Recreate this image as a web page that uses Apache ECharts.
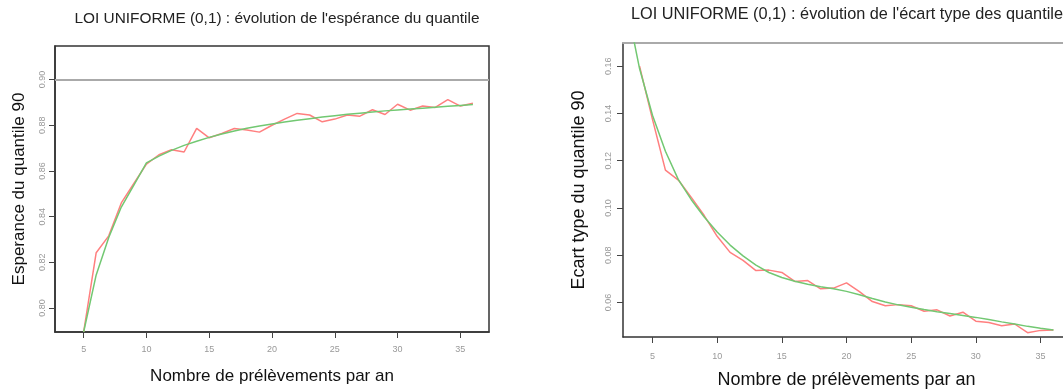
<!DOCTYPE html>
<html>
<head>
<meta charset="utf-8">
<script src="https://cdn.jsdelivr.net/npm/echarts@6/dist/echarts.min.js"></script>
<style>
html,body{margin:0;padding:0;background:#fff;}
#c{width:1063px;height:389px;}
</style>
</head>
<body>
<div id="c"></div>
<script>
// ---- Data ----
const titleLeft = "LOI UNIFORME (0,1) : évolution de l'espérance du quantile";
const titleRight = "LOI UNIFORME (0,1) : évolution de l'écart type des quantiles";
const xAxisName = "Nombre de prélèvements par an";
const yNameLeft = "Esperance du quantile 90";
const yNameRight = "Ecart type du quantile 90";

const xTicks = [5, 10, 15, 20, 25, 30, 35];
const yTicksLeft = [0.80, 0.82, 0.84, 0.86, 0.88, 0.90];
const yTicksRight = [0.06, 0.08, 0.10, 0.12, 0.14, 0.16];
const refLevel = 0.90;

const xMean = [5,6,7,8,9,10,11,12,13,14,15,16,17,18,19,20,21,22,23,24,25,26,27,28,29,30,31,32,33,34,35,36];
const meanObserved = [0.7895,0.8242,0.8316,0.8460,0.8545,0.8630,0.8671,0.8693,0.8683,0.8786,0.8745,0.8764,0.8786,0.8779,0.8770,0.8800,0.8827,0.8852,0.8845,0.8815,0.8827,0.8845,0.8840,0.8868,0.8847,0.8892,0.8866,0.8884,0.8878,0.8912,0.8884,0.8896];
const meanFitted = [0.7895,0.8145,0.8309,0.8442,0.8538,0.8635,0.8665,0.8690,0.8712,0.8730,0.8747,0.8762,0.8775,0.8787,0.8797,0.8806,0.8814,0.8822,0.8829,0.8836,0.8842,0.8848,0.8853,0.8858,0.8863,0.8867,0.8871,0.8875,0.8879,0.8883,0.8887,0.8891];

const xSdObserved = [4,5,6,7,8,9,10,11,12,13,14,15,16,17,18,19,20,21,22,23,24,25,26,27,28,29,30,31,32,33,34,35,36];
const sdObserved = [0.1600,0.1375,0.1160,0.1118,0.1045,0.0968,0.0880,0.0812,0.0778,0.0735,0.0737,0.0727,0.0689,0.0693,0.0658,0.0661,0.0683,0.0646,0.0604,0.0586,0.0591,0.0586,0.0563,0.0569,0.0543,0.0559,0.0521,0.0515,0.0502,0.0509,0.0472,0.0482,0.0484];
const xSdFitted = [3,4,5,6,7,8,9,10,11,12,13,14,15,16,17,18,19,20,21,22,23,24,25,26,27,28,29,30,31,32,33,34,35,36];
const sdFitted = [0.1860,0.1590,0.1392,0.1240,0.1120,0.1035,0.0962,0.0898,0.0843,0.0797,0.0758,0.0727,0.0706,0.0690,0.0677,0.0667,0.0658,0.0647,0.0633,0.0617,0.0602,0.0590,0.0580,0.0570,0.0561,0.0553,0.0545,0.0537,0.0528,0.0518,0.0509,0.0499,0.0491,0.0484];

// ---- Chart ----
const FONT = "'Liberation Sans', Arial, sans-serif";
const RED = '#ff7f7f';
const GREEN = '#72c872';
const pairs = (xs, ys) => xs.map((x, i) => [x, ys[i]]);

const chart = echarts.init(document.getElementById('c'), null, {renderer: 'canvas'});

function xAx(gridIndex, labelMargin, nameGap, nameSize) {
  return {
    type: 'value', gridIndex, min: 2.72, max: 37.28,
    splitLine: {show: false},
    axisLine: {show: true, onZero: false, lineStyle: {color: '#333', width: 1.5}},
    axisTick: {show: true, length: 6, customValues: xTicks, lineStyle: {color: '#444'}},
    axisLabel: {show: true, customValues: xTicks, margin: labelMargin, fontSize: 9, color: '#999', fontFamily: FONT},
    name: xAxisName, nameLocation: 'middle', nameGap: nameGap,
    nameTextStyle: {fontSize: nameSize, color: '#111', fontFamily: FONT}
  };
}
function yAx(gridIndex, min, max, ticks, labelMargin, name, nameGap, nameSize) {
  return {
    type: 'value', gridIndex, min, max,
    splitLine: {show: false},
    axisLine: {show: true, onZero: false, lineStyle: {color: '#333', width: 1.5}},
    axisTick: {show: true, length: 6, customValues: ticks, lineStyle: {color: '#444'}},
    axisLabel: {show: true, customValues: ticks, rotate: 90, margin: labelMargin, fontSize: 9, color: '#999', fontFamily: FONT,
      formatter: v => v.toFixed(2)},
    name, nameLocation: 'middle', nameGap, nameRotate: 90,
    nameTextStyle: {fontSize: nameSize, color: '#111', fontFamily: FONT}
  };
}

chart.setOption({
  animation: false,
  backgroundColor: '#fff',
  title: [
    {text: titleLeft, left: 272, top: 6, textAlign: 'center',
     textStyle: {fontSize: 15.4, fontWeight: 'normal', color: '#222', fontFamily: FONT}},
    {text: titleRight, left: 846, top: 2, textAlign: 'center',
     textStyle: {fontSize: 16.3, fontWeight: 'normal', color: '#222', fontFamily: FONT}}
  ],
  grid: [
    {left: 55, top: 46, width: 434, height: 286, show: true, borderColor: '#333', borderWidth: 1.5,
     backgroundColor: 'transparent', containLabel: false, outerBoundsMode: 'none'},
    {left: 623, top: 43, width: 447, height: 294, show: false, containLabel: false, outerBoundsMode: 'none'}
  ],
  xAxis: [
    xAx(0, 13, 36, 17),
    xAx(1, 15, 34, 18),
    {type: 'value', gridIndex: 1, position: 'top', min: 2.72, max: 37.28,
     axisLine: {show: true, onZero: false, lineStyle: {color: '#aaa', width: 2}},
     axisTick: {show: false}, axisLabel: {show: false}, splitLine: {show: false}}
  ],
  yAxis: [
    yAx(0, 0.7895, 0.9147, yTicksLeft, 8, yNameLeft, 27, 17),
    yAx(1, 0.0454, 0.1698, yTicksRight, 10, yNameRight, 35, 18)
  ],
  series: [
    {type: 'line', xAxisIndex: 0, yAxisIndex: 0, data: pairs(xMean, meanFitted), showSymbol: false, symbol: 'none',
     lineStyle: {color: GREEN, width: 1.5}, clip: true, z: 3,
     markLine: {silent: true, symbol: 'none', label: {show: false},
       lineStyle: {color: '#aaa', width: 2, type: 'solid'}, data: [{yAxis: refLevel}]}},
    {type: 'line', xAxisIndex: 0, yAxisIndex: 0, data: pairs(xMean, meanObserved), showSymbol: false, symbol: 'none',
     lineStyle: {color: RED, width: 1.5}, clip: true, z: 2},
    {type: 'line', xAxisIndex: 1, yAxisIndex: 1, data: pairs(xSdFitted, sdFitted), showSymbol: false, symbol: 'none',
     lineStyle: {color: GREEN, width: 1.5}, clip: true, z: 3},
    {type: 'line', xAxisIndex: 1, yAxisIndex: 1, data: pairs(xSdObserved, sdObserved), showSymbol: false, symbol: 'none',
     lineStyle: {color: RED, width: 1.5}, clip: true, z: 2}
  ]
});
</script>
</body>
</html>
